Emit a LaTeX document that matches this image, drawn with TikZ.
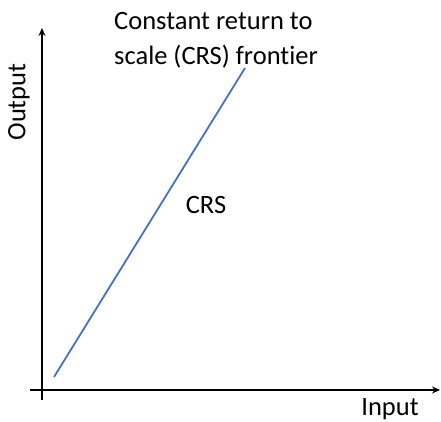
\documentclass[tikz,border=0pt]{standalone}
\usepackage{fontspec}
\setmainfont[Ligatures=NoCommon]{Carlito}
\usetikzlibrary{arrows.meta}
\definecolor{crsblue}{RGB}{68,114,196}
\begin{document}
\begin{tikzpicture}[x=1pt,y=1pt,
  axis/.style={line width=1.6pt,-{Stealth[length=8pt,width=7pt]}},
  lbl/.style={font=\fontsize{26.5}{35}\selectfont,inner sep=0pt}]
\useasboundingbox (0,0) rectangle (441,422);
\coordinate (yb) at (42,22);
\coordinate (yt) at (42,394);
\coordinate (xl) at (30,32);
\coordinate (xr) at (440,32);
\coordinate (p0) at (54,45);
\coordinate (p1) at (245,354);
\draw[axis] (yb) -- (yt);
\draw[axis] (xl) -- (xr);
\draw[crsblue,line width=1.8pt] (p0) -- (p1);
\node[lbl,align=left,anchor=west] (title) at (114,382) {Constant return to\\scale (CRS) frontier};
\node[lbl] (crs) at (206,217) {CRS};
\node[lbl] (inp) at (390,13) {Input};
\node[lbl,rotate=90] (out) at (19,320) {Output};
\end{tikzpicture}
\end{document}
